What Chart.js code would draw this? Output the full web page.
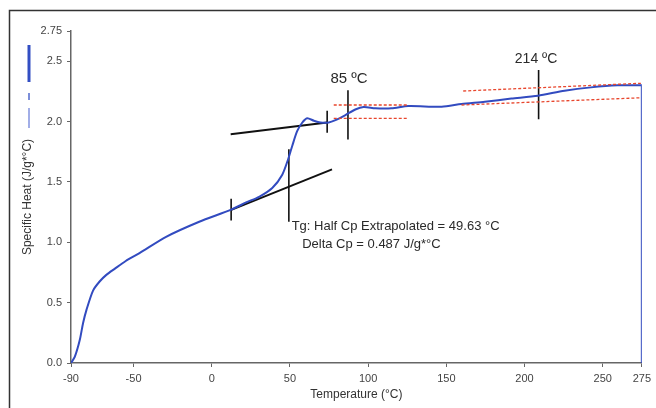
<!DOCTYPE html>
<html>
<head>
<meta charset="utf-8">
<script src="https://cdn.jsdelivr.net/npm/chart.js@4.4.1/dist/chart.umd.min.js"></script>
<style>
  html, body { margin: 0; padding: 0; background: #fff; }
  #wrap { width: 656px; height: 408px; position: relative; }
</style>
</head>
<body>
<div id="wrap"><canvas id="cpChart" width="656" height="408"></canvas></div>
<script>
// measured curve (temperature °C, specific heat J/g*°C)
const temps = [-90, -87.6, -84.4, -82.3, -80.1, -75.9, -71.7, -67.4, -62.1, -55, -46.2, -29.2, -8, 12.4, 22, 30.3, 38.7, 45.1, 48.9, 51.5, 54.6, 57.8, 61, 65.3, 69.5, 74.8, 79.1, 85.5, 91.8, 97.1, 104.6, 115, 125.7, 147, 159.7, 174.6, 191.6, 208.6, 225.6, 242.5, 259.6, 274.4, 275, 275];
const cp = [0.0, 0.05, 0.19, 0.33, 0.44, 0.60, 0.675, 0.73, 0.78, 0.845, 0.91, 1.045, 1.17, 1.27, 1.33, 1.377, 1.45, 1.56, 1.69, 1.80, 1.92, 1.99, 2.027, 2.007, 1.993, 1.993, 2.012, 2.054, 2.10, 2.12, 2.11, 2.11, 2.128, 2.123, 2.145, 2.164, 2.19, 2.214, 2.255, 2.283, 2.30, 2.30, 2.30, 0.0];

// tangent lines and markers: [x1, y1, x2, y2]
const tangents = [
    [12.1, 1.894, 73.8, 1.993],
    [12.1, 1.266, 76.9, 1.604]
];
const markers = [
    [12.4, 1.18, 12.4, 1.36],
    [73.8, 1.907, 73.8, 2.09],
    [49.3, 1.77, 49.3, 1.17],
    [87.1, 1.852, 87.1, 2.26],
    [209, 2.018, 209, 2.427]
];
const redLines = [
    [78, 2.137, 125.8, 2.137],
    [78, 2.027, 125.8, 2.027],
    [160.8, 2.253, 274.4, 2.317],
    [159.7, 2.137, 274.4, 2.197]
];

// text notes: [text, x, y, size]
const notes = [
    ['85 ºC', 75.9, 2.322, 15],
    ['214 ºC', 193.8, 2.483, 14],
    ['Tg: Half Cp Extrapolated = 49.63 °C', 51.1, 1.10, 13],
    ['Delta Cp = 0.487 J/g*°C', 57.8, 0.95, 13]
];

const xTicks = [-90, -50, 0, 50, 100, 150, 200, 250, 275];
const yTicks = [0, 0.5, 1.0, 1.5, 2.0, 2.5, 2.75];

const FONT = "'Liberation Sans', Arial, sans-serif";

const segDataset = (seg, color, width, dash) => ({
    data: [{ x: seg[0], y: seg[1] }, { x: seg[2], y: seg[3] }],
    borderColor: color,
    borderWidth: width,
    borderDash: dash || [],
    pointRadius: 0,
    showLine: true,
    tension: 0
});

const datasets = [];
redLines.forEach(s => datasets.push(segDataset(s, 'rgb(232,70,45)', 1.3, [3, 2])));
datasets.push({
    data: temps.map((t, i) => ({ x: t, y: cp[i] })),
    borderColor: 'rgb(50,75,192)',
    borderWidth: 2,
    pointRadius: 0,
    showLine: true,
    tension: 0.25
});
tangents.forEach(s => datasets.push(segDataset(s, '#111', 2)));
markers.forEach(s => datasets.push(segDataset(s, '#111', 1.6)));

const decorPlugin = {
    id: 'decor',
    beforeDraw(chart) {
        const c = chart.ctx;
        c.save();
        // outer frame (left and top)
        c.strokeStyle = '#333';
        c.lineWidth = 1.5;
        c.beginPath();
        c.moveTo(9.5, 408);
        c.lineTo(9.5, 10.5);
        c.lineTo(656, 10.5);
        c.stroke();
        // legend glyph
        c.strokeStyle = 'rgb(50,78,195)';
        c.lineWidth = 3;
        c.beginPath(); c.moveTo(29, 45); c.lineTo(29, 82); c.stroke();
        c.lineWidth = 1.5;
        c.strokeStyle = 'rgb(80,105,205)';
        c.beginPath(); c.moveTo(29, 93); c.lineTo(29, 100); c.stroke();
        c.lineWidth = 1.2;
        c.strokeStyle = 'rgb(100,120,215)';
        c.beginPath(); c.moveTo(29, 108); c.lineTo(29, 128); c.stroke();
        c.restore();
    },
    afterDatasetsDraw(chart) {
        const c = chart.ctx;
        const xs = chart.scales.x, ys = chart.scales.y;
        c.save();
        c.fillStyle = '#2a2a2a';
        c.textAlign = 'left';
        c.textBaseline = 'alphabetic';
        notes.forEach(([text, x, y, size]) => {
            c.font = `${size}px ${FONT}`;
            c.fillText(text, xs.getPixelForValue(x), ys.getPixelForValue(y));
        });
        c.restore();
    }
};

new Chart(document.getElementById('cpChart'), {
    type: 'scatter',
    data: { datasets },
    options: {
        responsive: false,
        animation: false,
        layout: { padding: { left: 0, right: 12, top: 31, bottom: 0 } },
        plugins: { legend: { display: false }, tooltip: { enabled: false } },
        scales: {
            x: {
                type: 'linear',
                min: -90,
                max: 275,
                afterBuildTicks: s => { s.ticks = xTicks.map(v => ({ value: v })); },
                afterFit: s => { s.height = 45; },
                grid: { drawOnChartArea: false, drawTicks: true, tickLength: 4, color: '#666' },
                border: { color: '#666', width: 1.5 },
                ticks: { color: '#444', font: { family: FONT, size: 11 }, padding: 5, maxRotation: 0, autoSkip: false },
                title: { display: true, text: 'Temperature (°C)', color: '#333', font: { family: FONT, size: 12 }, padding: { top: 0, bottom: 6 } }
            },
            y: {
                type: 'linear',
                min: 0,
                max: 2.75,
                afterBuildTicks: s => { s.ticks = yTicks.map(v => ({ value: v })); },
                afterFit: s => { s.width = 71; },
                grid: { drawOnChartArea: false, drawTicks: true, tickLength: 4, color: '#666' },
                border: { color: '#666', width: 1.5 },
                ticks: {
                    color: '#444',
                    font: { family: FONT, size: 11 },
                    padding: 5,
                    autoSkip: false,
                    callback: v => (v === 2.75 ? '2.75' : v.toFixed(1))
                },
                title: { display: true, text: 'Specific Heat (J/g*°C)', color: '#333', font: { family: FONT, size: 12 }, padding: { top: 20, bottom: 0 } }
            }
        }
    },
    plugins: [decorPlugin]
});
</script>
</body>
</html>
